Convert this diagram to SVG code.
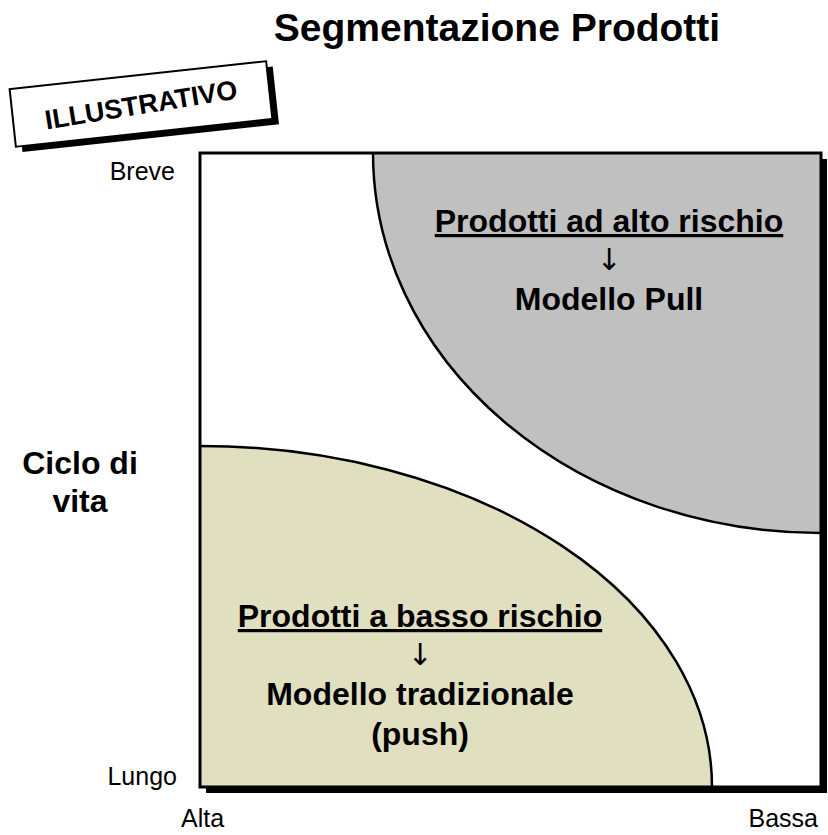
<svg xmlns="http://www.w3.org/2000/svg" width="828" height="835" viewBox="0 0 828 835">
  <style>
    .ttl { font-family: "Liberation Sans", Arial, sans-serif; font-weight: bold; font-size: 39px; fill: #000; }
    .lbl { font-family: "Liberation Sans", Arial, sans-serif; font-weight: bold; font-size: 32px; fill: #000; }
    .arr { font-family: "DejaVu Sans", sans-serif; font-size: 30px; fill: #000; }
    .ax { font-family: "Liberation Sans", Arial, sans-serif; font-size: 25px; fill: #000; }
    .arc { fill: none; stroke: #000; stroke-width: 2.5; }
    .u { text-decoration: underline; }
  </style>

  <!-- title -->
  <text class="ttl" x="497" y="41" text-anchor="middle">Segmentazione Prodotti</text>

  <!-- tilted stamp -->
  <g id="stamp" transform="translate(141,104) rotate(-6.2)">
    <rect x="-123" y="-23" width="258" height="58" fill="#000"/>
    <rect x="-129" y="-29" width="258" height="58" fill="#fff" stroke="#000" stroke-width="2"/>
    <text x="0" y="10" transform="rotate(-3)" text-anchor="middle" font-family="Liberation Sans, Arial, sans-serif" font-weight="bold" font-size="27">ILLUSTRATIVO</text>
  </g>

  <!-- matrix frame with drop shadow -->
  <g id="matrix">
    <rect x="206" y="159" width="621" height="634" fill="#000"/>
    <rect x="200" y="153" width="621" height="634" fill="#fff"/>
    <path d="M373,153 A448,380 0 0 0 821,533 L821,153 Z" fill="#c0c0c0"/>
    <path d="M200,446 A512,341 0 0 1 712,787 L200,787 Z" fill="#e0dfc0"/>
    <path class="arc" d="M373,153 A448,380 0 0 0 821,533"/>
    <path class="arc" d="M200,446 A512,341 0 0 1 712,787"/>
    <rect x="200" y="153" width="621" height="634" fill="none" stroke="#000" stroke-width="3"/>
  </g>

  <!-- high-risk segment -->
  <g id="high-risk">
    <text class="lbl u" x="609" y="232" text-anchor="middle">Prodotti ad alto rischio</text>
    <text class="arr" x="609" y="270" text-anchor="middle">↓</text>
    <text class="lbl" x="609" y="310" text-anchor="middle">Modello Pull</text>
  </g>

  <!-- low-risk segment -->
  <g id="low-risk">
    <text class="lbl u" x="420" y="627" text-anchor="middle">Prodotti a basso rischio</text>
    <text class="arr" x="420" y="665" text-anchor="middle">↓</text>
    <text class="lbl" x="420" y="705" text-anchor="middle">Modello tradizionale</text>
    <text class="lbl" x="420" y="745" text-anchor="middle">(push)</text>
  </g>

  <!-- axis labels -->
  <g id="axes">
    <text class="lbl" x="80" y="474" text-anchor="middle">Ciclo di</text>
    <text class="lbl" x="80" y="512" text-anchor="middle">vita</text>
    <text class="ax" x="175" y="180" text-anchor="end">Breve</text>
    <text class="ax" x="177" y="785" text-anchor="end">Lungo</text>
    <text class="ax" x="181" y="827">Alta</text>
    <text class="ax" x="818" y="827" text-anchor="end">Bassa</text>
  </g>
</svg>
